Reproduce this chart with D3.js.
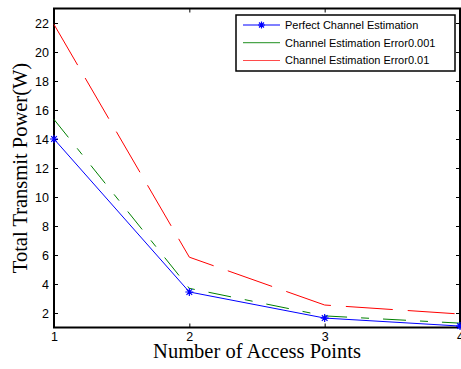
<!DOCTYPE html>
<html>
<head>
<meta charset="utf-8">
<script src="https://cdn.jsdelivr.net/npm/d3@7"></script>
<style>
  html, body { margin: 0; padding: 0; background: #fff; }
  svg { display: block; }
</style>
</head>
<body>
<svg id="chart" width="461" height="369"></svg>
<script>
// Access points on the x axis
const accessPoints = [1, 2, 3, 4];
// Total transmit power (W) for each scheme
const perfectCE = [14.0, 3.45, 1.65, 1.1];
const ceError001 = [15.35, 3.7, 1.8, 1.3];
const ceError01 = [21.9, 5.85, 2.55, 1.93];
const yTicks = [2, 4, 6, 8, 10, 12, 14, 16, 18, 20, 22];
const xTicks = [1, 2, 3, 4];
const seriesNames = ["Perfect Channel Estimation", "Channel Estimation Error0.001", "Channel Estimation Error0.01"];

const svg = d3.select("#chart");
const plot = { left: 54, right: 460, top: 8.5, bottom: 327.5 };

const x = d3.scaleLinear().domain([1, 4]).range([plot.left, plot.right]);
const y = d3.scaleLinear().domain([1, 23]).range([plot.bottom, plot.top]);

const tickFont = "'Liberation Sans', Arial, Helvetica, sans-serif";
const labelFont = "'Liberation Serif', 'Times New Roman', serif";

// Axes with inward ticks
const tickLen = 4;
const gx = svg.append("g").attr("transform", `translate(0,${plot.bottom})`)
  .call(d3.axisBottom(x).tickValues(xTicks).tickFormat(d3.format("d")).tickSizeInner(-tickLen).tickSizeOuter(0).tickPadding(5));
const gxTop = svg.append("g").attr("transform", `translate(0,${plot.top})`)
  .call(d3.axisTop(x).tickValues(xTicks).tickFormat("").tickSizeInner(-tickLen).tickSizeOuter(0));
const gy = svg.append("g").attr("transform", `translate(${plot.left},0)`)
  .call(d3.axisLeft(y).tickValues(yTicks).tickFormat(d3.format("d")).tickSizeInner(-tickLen).tickSizeOuter(0).tickPadding(5));
const gyRight = svg.append("g").attr("transform", `translate(${plot.right},0)`)
  .call(d3.axisRight(y).tickValues(yTicks).tickFormat("").tickSizeInner(-tickLen).tickSizeOuter(0));

[gx, gxTop, gy, gyRight].forEach(g => {
  g.select(".domain").remove();
  g.selectAll(".tick line").attr("stroke", "#000").attr("stroke-width", 1);
  g.selectAll(".tick text").attr("font-family", tickFont).attr("font-size", 12.5).attr("fill", "#000");
});

// Frame around the plot area
svg.append("rect")
  .attr("x", plot.left).attr("y", plot.top)
  .attr("width", plot.right - plot.left).attr("height", plot.bottom - plot.top)
  .attr("fill", "none").attr("stroke", "#000").attr("stroke-width", 2);

// Series lines
const line = d3.line().x((d, i) => x(accessPoints[i])).y(d => y(d));
const series = [
  { values: ceError01, color: "#ff0000", dash: "47,15" },
  { values: ceError001, color: "#008000", dash: "23,14,8,14" },
  { values: perfectCE, color: "#0000ff", dash: null }
];
series.forEach(s => {
  svg.append("path")
    .datum(s.values)
    .attr("d", line)
    .attr("fill", "none")
    .attr("stroke", s.color)
    .attr("stroke-width", 1)
    .attr("stroke-dasharray", s.dash);
});

// Asterisk marker
function asterisk(cx, cy, r) {
  const d = r * Math.SQRT1_2;
  return `M${cx - r},${cy}L${cx + r},${cy}M${cx},${cy - r}L${cx},${cy + r}` +
         `M${cx - d},${cy - d}L${cx + d},${cy + d}M${cx - d},${cy + d}L${cx + d},${cy - d}`;
}
svg.append("g").selectAll("path")
  .data(perfectCE)
  .join("path")
  .attr("d", (d, i) => asterisk(x(accessPoints[i]), y(d), 4))
  .attr("stroke", "#0000ff")
  .attr("stroke-width", 1.2)
  .attr("fill", "none");

// Legend
const legend = svg.append("g");
legend.append("rect")
  .attr("x", 236).attr("y", 15).attr("width", 219).attr("height", 56)
  .attr("fill", "#fff").attr("stroke", "#000").attr("stroke-width", 1.5);
const legendColors = ["#0000ff", "#008000", "#ff0000"];
const rowY = [25, 42.7, 60.5];
seriesNames.forEach((name, i) => {
  legend.append("line")
    .attr("x1", 243).attr("x2", 280).attr("y1", rowY[i]).attr("y2", rowY[i])
    .attr("stroke", legendColors[i]).attr("stroke-width", 1.2)
    .attr("opacity", i === 0 ? 1 : 0.7);
  legend.append("text")
    .attr("x", 285).attr("y", rowY[i]).attr("dy", "0.35em")
    .attr("font-family", tickFont).attr("font-size", 11).attr("fill", "#000")
    .text(name);
});
legend.append("path")
  .attr("d", asterisk(261.5, rowY[0], 3.5))
  .attr("stroke", "#0000ff").attr("stroke-width", 1.2).attr("fill", "none");

// Axis titles
svg.append("text")
  .attr("x", (plot.left + plot.right) / 2).attr("y", 358)
  .attr("text-anchor", "middle")
  .attr("font-family", labelFont).attr("font-size", 20.5).attr("fill", "#000")
  .text("Number of Access Points");
svg.append("text")
  .attr("transform", `translate(27,${(plot.top + plot.bottom) / 2}) rotate(-90)`)
  .attr("text-anchor", "middle")
  .attr("font-family", labelFont).attr("font-size", 20.5).attr("fill", "#000")
  .text("Total Transmit Power(W)");
</script>
</body>
</html>
